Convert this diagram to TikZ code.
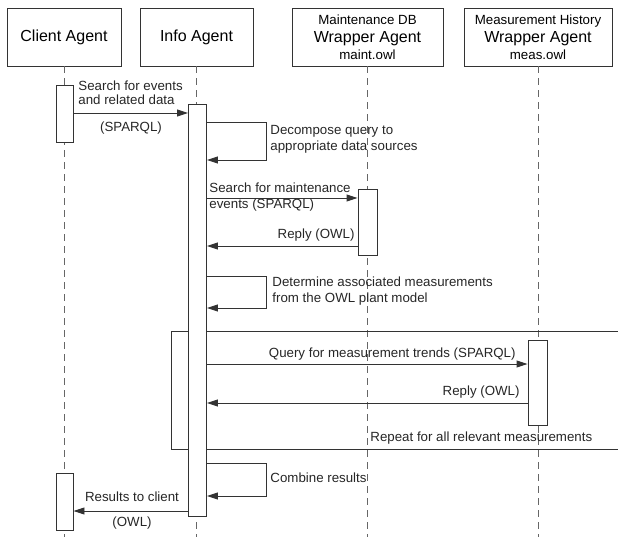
\documentclass[tikz,border=0pt]{standalone}
\usepackage{fontspec}
\setmainfont{Liberation Sans}
\usetikzlibrary{arrows.meta}

\begin{document}
\begin{tikzpicture}[x=1pt,y=-1pt,line width=0.9pt,
    head/.style={draw=black!80,fill=white,minimum height=58pt,inner sep=0pt,align=center,font=\fontsize{16}{19}\selectfont},
    life/.style={draw=black!60,dash pattern=on 7pt off 5pt},
    actbar/.style={draw=black!80,fill=white,inner sep=0pt,anchor=north},
    msg/.style={draw=black!80,-{Triangle[length=11pt,width=7pt]}},
    lbl/.style={inner sep=0pt,align=left,text=black!85,font=\fontsize{13.3}{16}\selectfont}]
        \useasboundingbox (0,0) rectangle (618,537);
        % Heads
        \node[head,minimum width=114pt] (client) at (64,37) {Client Agent};
        \node[head,minimum width=113pt] (info) at (196.5,37) {Info Agent};
        \node[head,minimum width=151pt] (maint) at (367.5,37)
            {{\fontsize{13.3}{16}\selectfont Maintenance DB}\\[-1pt]Wrapper Agent\\[-2pt]{\fontsize{13.3}{16}\selectfont maint.owl}};
        \node[head,minimum width=148pt] (meas) at (538,37)
            {{\fontsize{13.3}{16}\selectfont Measurement History}\\[-1pt]Wrapper Agent\\[-2pt]{\fontsize{13.3}{16}\selectfont meas.owl}};
        % Lifelines
        \foreach \who in {client,info,maint,meas}
            \draw[life] (\who.south) -- (\who.south |- 0,537);
        % Loop frame
        \draw[draw=black!80] (618,331) -- (171,331) -- (171,449) -- (618,449);
        % Activation bars
        \node[actbar,minimum width=17pt,minimum height=57pt] (ca1) at (64.5,85) {};
        \node[actbar,minimum width=18pt,minimum height=412pt] (ia) at (197.5,104) {};
        \node[actbar,minimum width=19pt,minimum height=66pt] (ma) at (367.5,189) {};
        \node[actbar,minimum width=19pt,minimum height=85pt] (mea) at (537.5,340) {};
        \node[actbar,minimum width=17pt,minimum height=57pt] (ca2) at (64.5,473) {};
        % Search request
        \draw[msg] (ca1.east |- 0,113) -- (ia.west |- 0,113);
        \node[lbl,anchor=west] (l1) at (78,93) {Search for events\\[-2pt]and related data};
        \node[lbl] (l1b) at (131,128) {(SPARQL)};
        % Decompose
        \draw[msg] (ia.east |- 0,122) -- ++(59,0) |- (ia.east |- 0,160);
        \node[lbl,anchor=west] (l2) at (270,139) {Decompose query to\\appropriate data sources};
        % Maintenance events
        \draw[msg] (ia.east |- 0,198) -- (ma.west |- 0,198);
        \node[lbl,anchor=west] (l3) at (209,197.5) {Search for maintenance\\events (SPARQL)};
        \draw[msg] (ma.west |- 0,246) -- (ia.east |- 0,246);
        \node[lbl,anchor=east] (l4) at (355,235) {Reply (OWL)};
        % Determine measurements
        \draw[msg] (ia.east |- 0,276) -- ++(59,0) |- (ia.east |- 0,308);
        \node[lbl,anchor=west] (l5) at (272,291) {Determine associated measurements\\from the OWL plant model};
        % Loop over measurements
        \draw[msg] (ia.east |- 0,364) -- (mea.west |- 0,364);
        \node[lbl,anchor=east] (l6) at (516,354) {Query for measurement trends (SPARQL)};
        \draw[msg] (mea.west |- 0,403) -- (ia.east |- 0,403);
        \node[lbl,anchor=east] (l7) at (520,392) {Reply (OWL)};
        \node[lbl,anchor=west] (l8) at (370,438) {Repeat for all relevant measurements};
        % Combine
        \draw[msg] (ia.east |- 0,463) -- ++(59,0) |- (ia.east |- 0,496);
        \node[lbl,anchor=west] (l9) at (270,478) {Combine results};
        % Results
        \draw[msg] (ia.west |- 0,511) -- (ca2.east |- 0,511);
        \node[lbl] (l10) at (132,497) {Results to client};
        \node[lbl] (l10b) at (132,523) {(OWL)};
    \end{tikzpicture}
\end{document}
